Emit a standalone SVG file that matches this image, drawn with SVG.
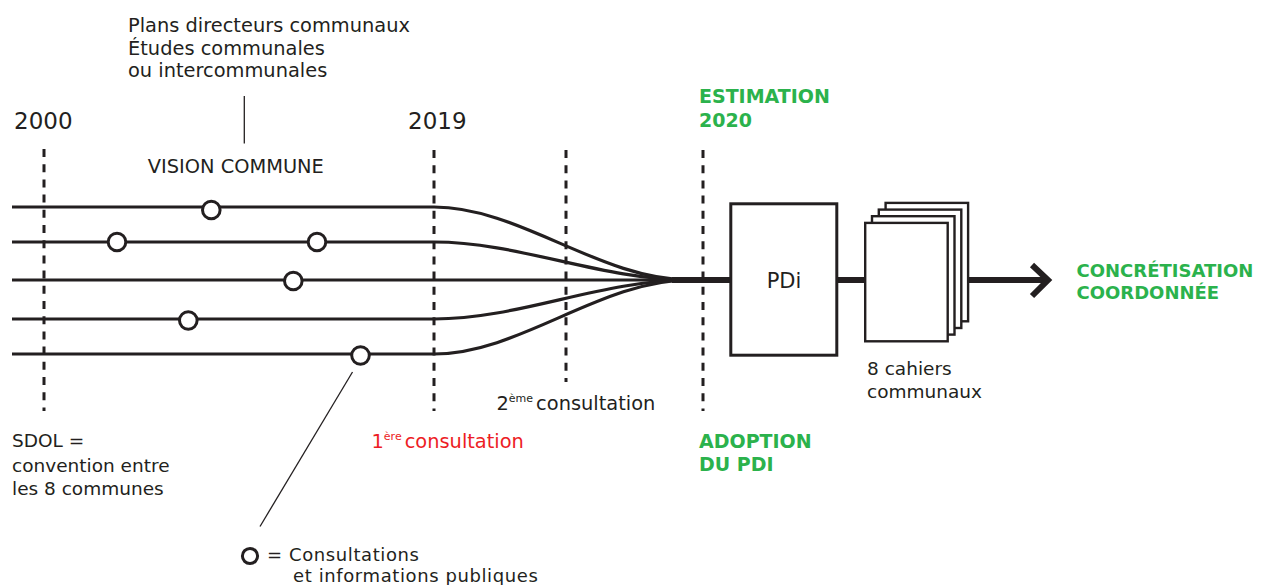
<svg xmlns="http://www.w3.org/2000/svg" width="1273" height="585" viewBox="0 0 1273 585">
<style>
  text { font-family: "DejaVu Sans", "Liberation Sans", sans-serif; fill: #231f20; }
  .t19 { font-size: 19.4px; }
  .t18 { font-size: 18.5px; }
  .leg { font-size: 18px; letter-spacing: 0.6px; }
  .yr { font-size: 23px; }
  .g { fill: #2bb24c; font-weight: bold; font-size: 19px; }
  .red { fill: #ed1c24; }
  .sup { font-size: 11px; }
  .ln { fill: none; stroke: #231f20; stroke-width: 3.2; }
  .thick { fill: none; stroke: #231f20; stroke-width: 6; }
  .dash { fill: none; stroke: #231f20; stroke-width: 3; stroke-dasharray: 8 7.2; }
  .thin { fill: none; stroke: #231f20; stroke-width: 1.3; }
  .dot { fill: #fff; stroke: #231f20; stroke-width: 3; }
  .page { fill: #fff; stroke: #231f20; stroke-width: 2.4; }
</style>
<rect width="1273" height="585" fill="#fff"/>

<g id="timeline-markers">
  <line class="dash" x1="44" y1="149" x2="44" y2="411"/>
  <line class="dash" x1="434" y1="150" x2="434" y2="411"/>
  <line class="dash" x1="566" y1="150" x2="566" y2="382"/>
  <line class="dash" x1="703" y1="150" x2="703" y2="411"/>
</g>

<g id="connectors">
  <path class="ln" d="M12,207 H434 C520,207 600,280 690,280"/>
  <path class="ln" d="M12,242 H434 C520,242 600,280 690,280"/>
  <path class="ln" d="M12,280 H690"/>
  <path class="ln" d="M12,319 H434 C520,319 600,280 690,280"/>
  <path class="ln" d="M12,354 H434 C520,354 600,280 690,280"/>
  <line class="thick" x1="672" y1="280" x2="731" y2="280"/>
  <line class="thick" x1="837" y1="280" x2="866" y2="280"/>
  <line class="thick" x1="969" y1="280" x2="1048" y2="280"/>
  <polyline class="thick" points="1032,265 1048,280 1032,296"/>
  <line class="thin" x1="244.3" y1="96" x2="244.3" y2="143.5"/>
  <line class="thin" x1="352.5" y1="372" x2="260" y2="526.5"/>
</g>

<g id="consultations">
  <circle class="dot" cx="211.3" cy="210" r="8.8"/>
  <circle class="dot" cx="117" cy="242" r="8.8"/>
  <circle class="dot" cx="317" cy="242" r="8.8"/>
  <circle class="dot" cx="293.3" cy="281" r="8.8"/>
  <circle class="dot" cx="188.3" cy="320.5" r="8.8"/>
  <circle class="dot" cx="360.5" cy="355.5" r="8.8"/>
</g>

<g id="pdi">
  <rect x="730.8" y="203.8" width="106" height="151.4" fill="#fff" stroke="#231f20" stroke-width="3"/>
  <text x="784" y="288.3" font-size="21" text-anchor="middle">PDi</text>
</g>

<g id="cahiers">
  <rect class="page" x="885.6" y="202.9" width="82.5" height="118.4"/>
  <rect class="page" x="878.8" y="209.6" width="82.5" height="118.4"/>
  <rect class="page" x="872" y="216.2" width="82.5" height="118.4"/>
  <rect class="page" x="865.2" y="222.9" width="82.5" height="118.4"/>
  <text class="t18" x="867" y="375">8 cahiers</text>
  <text class="t18" x="867" y="398.3">communaux</text>
</g>

<g id="label-plans">
  <text class="t19" x="128" y="31.5">Plans directeurs communaux</text>
  <text class="t19" x="128" y="54.5">Études communales</text>
  <text class="t19" x="128" y="77">ou intercommunales</text>
</g>

<g id="label-years">
  <text class="yr" x="14" y="129">2000</text>
  <text class="yr" x="408" y="129">2019</text>
</g>

<g id="label-vision">
  <text class="t19" x="147.7" y="173.3">VISION COMMUNE</text>
</g>

<g id="label-estimation">
  <text class="g" x="699" y="103.3">ESTIMATION</text>
  <text class="g" x="699" y="126.7">2020</text>
</g>

<g id="label-adoption">
  <text class="g" x="699" y="447.5">ADOPTION</text>
  <text class="g" x="699" y="471">DU PDI</text>
</g>

<g id="label-concretisation">
  <text class="g" x="1076.5" y="276.7" style="font-size:18px">CONCRÉTISATION</text>
  <text class="g" x="1076.5" y="298.5" style="font-size:18px">COORDONNÉE</text>
</g>

<g id="label-sdol">
  <text class="t18" x="12" y="447.3">SDOL =</text>
  <text class="t18" x="12" y="472">convention entre</text>
  <text class="t18" x="12" y="495">les 8 communes</text>
</g>

<g id="label-consult1">
  <text class="t19 red" x="371.5" y="447.7">1<tspan class="sup" dy="-8">ère</tspan><tspan dx="3" dy="8">consultation</tspan></text>
</g>

<g id="label-consult2">
  <text class="t19" x="496.5" y="410">2<tspan class="sup" dy="-8">ème</tspan><tspan dx="3" dy="8">consultation</tspan></text>
</g>

<g id="legend">
  <circle class="dot" cx="250" cy="556" r="7.6"/>
  <text class="leg" x="267" y="560.5">= Consultations</text>
  <text class="leg" x="293" y="582">et informations publiques</text>
</g>
</svg>
